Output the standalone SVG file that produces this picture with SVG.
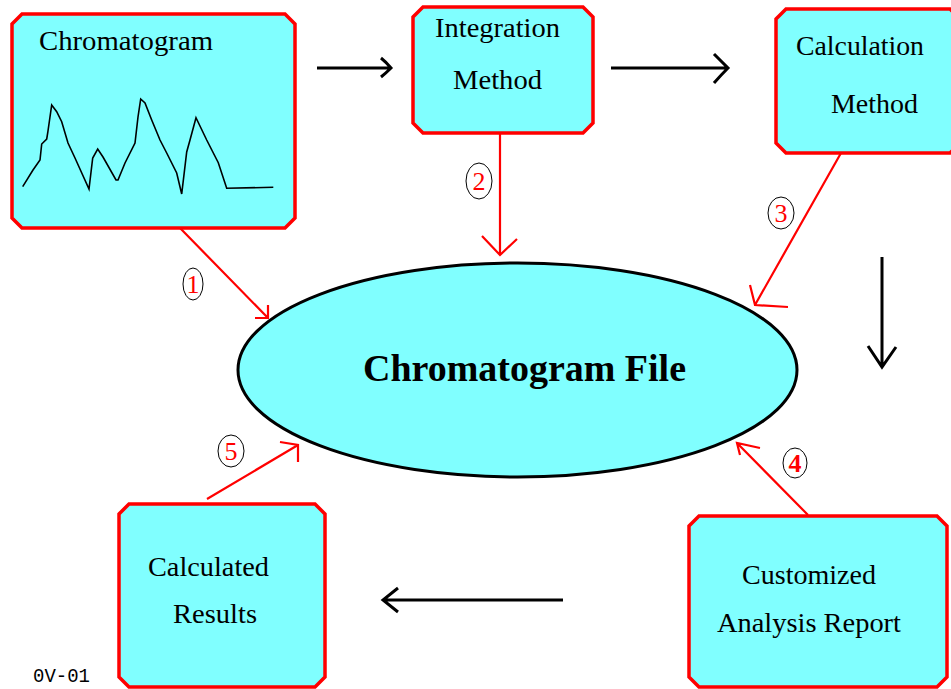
<svg xmlns="http://www.w3.org/2000/svg" width="951" height="689" viewBox="0 0 951 689">
<style>
.box{fill:#80FFFF;stroke:#FF0000;stroke-width:3.5;stroke-linejoin:miter}
.t{font-family:"Liberation Serif","Times New Roman",serif;font-size:28px;fill:#000}
.red{stroke:#FF0000;stroke-width:2.2;fill:none}
.blk{stroke:#000;stroke-width:3;fill:none}
.lab{fill:#fff;stroke:#000;stroke-width:1}
.num{font-family:"Liberation Serif","Times New Roman",serif;font-size:26px;fill:#FF0000;text-anchor:middle}
</style>
<rect width="951" height="689" fill="#fff"/>
<g id="ellipse-file">
<ellipse cx="517.5" cy="370" rx="279.5" ry="107" fill="#80FFFF" stroke="#000" stroke-width="3"/>
<text x="524.5" y="381" font-family="'Liberation Serif','Times New Roman',serif" font-size="37" font-weight="bold" text-anchor="middle" textLength="323" lengthAdjust="spacingAndGlyphs">Chromatogram File</text>
</g>
<g id="node-chromatogram">
<path class="box" d="M22,14 H285 L295,24 V218 L285,228 H22 L12,218 V24 Z"/>
<text class="t" x="39" y="50" textLength="174" lengthAdjust="spacingAndGlyphs">Chromatogram</text>
<polyline fill="none" stroke="#000" stroke-width="1.6" points="22.7,186.7 33,170 40,160 41.7,144 46.7,139 47.7,133 51.7,105 56.7,111.7 61.7,121.7 68,143 75,158 89,189 92.7,158 97.7,149 103,157 116,180 118,180 125,163 135,143 138,117 140.7,99 145,103 151.7,120 160,140 166.7,153 176.7,173 181.7,194 186.7,152 190,140 196,117.7 206.7,140 218.3,162.7 226.7,188.3 273.3,187.3"/>
</g>
<g id="node-integration">
<path class="box" d="M423,7 H583 L593,17 V123 L583,133 H423 L413,123 V17 Z"/>
<text class="t" x="435" y="37" textLength="125" lengthAdjust="spacingAndGlyphs">Integration</text>
<text class="t" x="453" y="89" textLength="89" lengthAdjust="spacingAndGlyphs">Method</text>
</g>
<g id="node-calculation">
<path class="box" d="M786,9 H950 L960,19 V143 L950,153 H786 L776,143 V19 Z"/>
<text class="t" x="796" y="55" textLength="128" lengthAdjust="spacingAndGlyphs">Calculation</text>
<text class="t" x="831" y="113" textLength="87" lengthAdjust="spacingAndGlyphs">Method</text>
</g>
<g id="node-report">
<path class="box" d="M699,516 H937 L947,526 V677 L937,687 H699 L689,677 V526 Z"/>
<text class="t" x="742" y="584" textLength="134" lengthAdjust="spacingAndGlyphs">Customized</text>
<text class="t" x="717" y="632" textLength="184" lengthAdjust="spacingAndGlyphs">Analysis Report</text>
</g>
<g id="node-results">
<path class="box" d="M129,504 H315 L325,514 V677 L315,687 H129 L119,677 V514 Z"/>
<text class="t" x="148" y="576" textLength="121" lengthAdjust="spacingAndGlyphs">Calculated</text>
<text class="t" x="173" y="623" textLength="84" lengthAdjust="spacingAndGlyphs">Results</text>
</g>
<g id="connectors">
<path class="red" d="M180,228 L268,318 M255,318 H268 V305"/>
<path class="red" d="M500,133 V255 M482,236 L500,255 L517,239"/>
<path class="red" d="M841,153 L755,305 M750,285 L755,305 L788,307"/>
<path class="red" d="M808,515 L737,443 M760,448 L737,443 L740,455"/>
<path class="red" d="M207,499 L298,445 M280,442 L298,445 L298,462"/>
<path class="blk" d="M317,68 H391 M381,58 Q386,62 391,68 Q386,73 381,77"/>
<path class="blk" d="M611,68 H728 M714,54 Q721,61 728,68 Q721,75 714,83"/>
<path class="blk" d="M882,257 V367 M868,346 L882,367 L896,347"/>
<path class="blk" d="M563,600 H383 M398,588 L383,600 L398,612"/>
</g>
<g id="labels">
<ellipse class="lab" cx="193" cy="284" rx="10" ry="16"/>
<text class="num" x="193" y="293">1</text>
<ellipse class="lab" cx="479" cy="181" rx="13" ry="18"/>
<text class="num" x="479" y="190">2</text>
<ellipse class="lab" cx="781" cy="213" rx="13" ry="16"/>
<text class="num" x="781" y="222">3</text>
<ellipse class="lab" cx="795" cy="463" rx="12" ry="15"/>
<text class="num" x="795" y="472" font-weight="bold">4</text>
<ellipse class="lab" cx="231" cy="451" rx="13" ry="16"/>
<text class="num" x="231" y="460">5</text>
</g>
<text x="33" y="682" font-family="'Liberation Mono','Courier New',monospace" font-size="20" textLength="57" lengthAdjust="spacingAndGlyphs" fill="#000">0V-01</text>
</svg>
